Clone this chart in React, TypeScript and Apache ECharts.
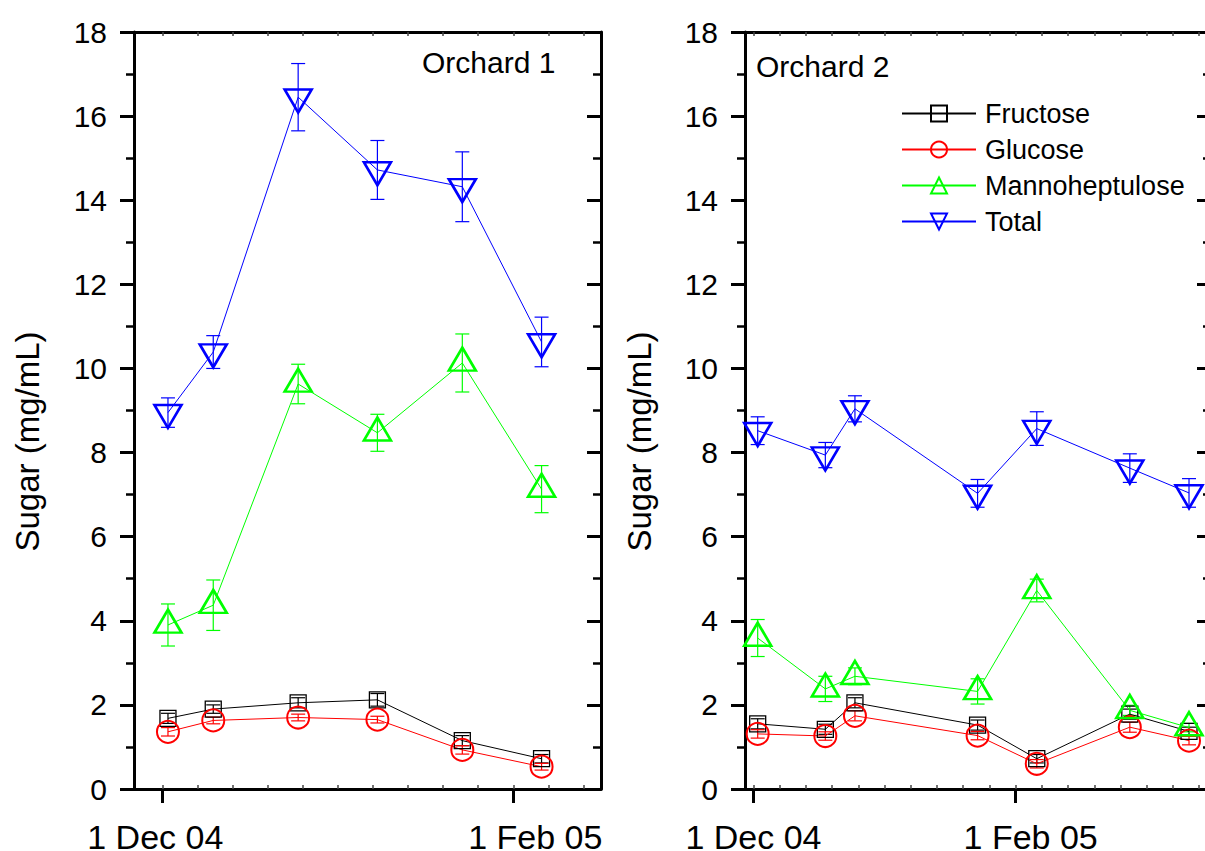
import React, { useEffect, useRef } from "react";
import * as echarts from "echarts";

const FONT = "'Liberation Sans', Arial, Helvetica, sans-serif";
const SERIES_NAMES = ["Fructose", "Glucose", "Mannoheptulose", "Total"];
const COLORS = ["#000000", "#ff0000", "#00ff00", "#0000ff"];

// Orchard 1
const o1Dates = ["2004-12-02", "2004-12-10", "2004-12-25", "2005-01-08", "2005-01-23", "2005-02-06"];
const o1Fructose = [1.68, 1.9, 2.05, 2.12, 1.15, 0.72];
const o1FructoseErr = [0.12, 0.1, 0.12, 0.15, 0.12, 0.1];
const o1Glucose = [1.36, 1.63, 1.7, 1.65, 0.93, 0.53];
const o1GlucoseErr = [0.1, 0.08, 0.08, 0.08, 0.1, 0.08];
const o1Manno = [3.9, 4.37, 9.63, 8.47, 10.13, 7.13];
const o1MannoErr = [0.5, 0.6, 0.47, 0.44, 0.69, 0.56];
const o1Total = [8.95, 10.39, 16.45, 14.72, 14.32, 10.63];
const o1TotalErr = [0.35, 0.39, 0.8, 0.7, 0.83, 0.59];

// Orchard 2
const o2Dates = ["2004-12-02", "2004-12-18", "2004-12-25", "2005-01-23", "2005-02-06", "2005-02-28", "2005-03-14"];
const o2Fructose = [1.55, 1.42, 2.05, 1.52, 0.72, 1.78, 1.37];
const o2FructoseErr = [0.12, 0.12, 0.12, 0.12, 0.1, 0.12, 0.1];
const o2Glucose = [1.31, 1.26, 1.74, 1.27, 0.6, 1.47, 1.15];
const o2GlucoseErr = [0.1, 0.1, 0.12, 0.1, 0.1, 0.12, 0.1];
const o2Manno = [3.59, 2.38, 2.68, 2.32, 4.72, 1.87, 1.46];
const o2MannoErr = [0.44, 0.3, 0.2, 0.3, 0.27, 0.12, 0.1];
const o2Total = [8.52, 7.94, 9.04, 7.03, 8.57, 7.63, 7.04];
const o2TotalErr = [0.33, 0.3, 0.31, 0.33, 0.4, 0.34, 0.34];

// x axis: days since 1 Dec 2004
const X_TICK_VALUES = [0, 62];
const X_TICK_LABELS = ["1 Dec 04", "1 Feb 05"];
const X_MINOR_STEP = 6.2;
const Y_TICK_LABELS = ["0", "2", "4", "6", "8", "10", "12", "14", "16", "18"];

const ORIGIN = Date.UTC(2004, 11, 1);
const dayOf = (s: string) => (Date.parse(s) - ORIGIN) / 86400000;

const symbols = ["rect", "circle", "triangle", "triangle"];
const symbolSizes: any[] = [16, 22, [27, 23], [27, 23]];
const symbolRotates = [0, 0, 0, 180];
const symbolOffsets: any[] = [[0, 0], [0, 0], [0, -23 / 6], [0, 23 / 6]];
const borderWidths = [1.3, 2, 2.6, 2.6];

function minorValues(max: number) {
  const out: number[] = [];
  for (let k = 0; k * X_MINOR_STEP <= max; k++) out.push(+(k * X_MINOR_STEP).toFixed(2));
  return out;
}

export default function App() {
  const ref = useRef<HTMLDivElement>(null);

  useEffect(() => {
    if (!ref.current) return;
    const chart = echarts.init(ref.current, null, { renderer: "svg" });

    const panels = [
      {
        dates: o1Dates,
        vals: [o1Fructose, o1Glucose, o1Manno, o1Total],
        errs: [o1FructoseErr, o1GlucoseErr, o1MannoErr, o1TotalErr],
        grid: { left: 134, top: 32, width: 467, height: 757 },
        xMin: -5,
        xMax: 77.5,
        labelShift: [-7, 22],
        nameGap: 90,
      },
      {
        dates: o2Dates,
        vals: [o2Fructose, o2Glucose, o2Manno, o2Total],
        errs: [o2FructoseErr, o2GlucoseErr, o2MannoErr, o2TotalErr],
        grid: { left: 745, top: 32, width: 466, height: 757 },
        xMin: -2,
        xMax: 108.2,
        labelShift: [0, 15],
        nameGap: 89,
      },
    ];

    const grids: any[] = [];
    const xAxes: any[] = [];
    const yAxes: any[] = [];
    const series: any[] = [];

    panels.forEach((p, pi) => {
      grids.push({ ...p.grid, containLabel: false, outerBoundsMode: "none" });
      const minors = minorValues(p.xMax);
      const rich: any = {};
      X_TICK_LABELS.forEach((_, i) => {
        const s = p.labelShift[i];
        rich["l" + i] = {
          fontSize: 34,
          lineHeight: 26,
          fontFamily: FONT,
          color: "#000",
          padding: s >= 0 ? [0, 0, 0, 2 * s] : [0, -2 * s, 0, 0],
        };
      });
      const xMain = xAxes.length;
      // bottom main axis
      xAxes.push({
        type: "value",
        gridIndex: pi,
        position: "bottom",
        min: p.xMin,
        max: p.xMax,
        axisLine: { show: true, onZero: false, lineStyle: { color: "#000", width: 3 } },
        axisTick: { show: true, customValues: X_TICK_VALUES, length: 14, inside: false, lineStyle: { color: "#000", width: 3 } },
        axisLabel: {
          show: true,
          customValues: X_TICK_VALUES,
          margin: 35,
          formatter: (v: number) => {
            const i = X_TICK_VALUES.indexOf(Math.round(v));
            return i >= 0 ? `{l${i}|${X_TICK_LABELS[i]}}` : "";
          },
          rich,
        },
        splitLine: { show: false },
      });
      // bottom minor ticks
      xAxes.push({
        type: "value",
        gridIndex: pi,
        position: "bottom",
        min: p.xMin,
        max: p.xMax,
        axisLine: { show: false, onZero: false },
        axisTick: { show: true, customValues: minors, length: 4, inside: true, lineStyle: { color: "#444", width: 1.5 } },
        axisLabel: { show: false },
        splitLine: { show: false },
      });
      // top axis
      xAxes.push({
        type: "value",
        gridIndex: pi,
        position: "top",
        min: p.xMin,
        max: p.xMax,
        axisLine: { show: true, onZero: false, lineStyle: { color: "#000", width: 3 } },
        axisTick: { show: true, customValues: minors, length: 4, inside: true, lineStyle: { color: "#444", width: 1.5 } },
        axisLabel: { show: false },
        splitLine: { show: false },
      });
      const yMain = yAxes.length;
      yAxes.push({
        type: "value",
        gridIndex: pi,
        position: "left",
        min: 0,
        max: 18,
        interval: 2,
        name: "Sugar (mg/mL)",
        nameLocation: "middle",
        nameGap: p.nameGap,
        nameRotate: 90,
        nameTextStyle: { fontSize: 33, fontFamily: FONT, color: "#000", padding: [0, 62, 0, 0] },
        axisLine: { show: true, onZero: false, lineStyle: { color: "#000", width: 3 } },
        axisTick: { show: true, length: 14, inside: false, lineStyle: { color: "#000", width: 3 } },
        minorTick: { show: true, splitNumber: 2, length: 8, lineStyle: { color: "#000", width: 2.5 } },
        axisLabel: {
          show: true,
          margin: 27,
          fontSize: 30,
          fontFamily: FONT,
          color: "#000",
          formatter: (v: number) => Y_TICK_LABELS[Math.round(v / 2)] ?? "",
        },
        splitLine: { show: false },
        minorSplitLine: { show: false },
      });
      yAxes.push({
        type: "value",
        gridIndex: pi,
        position: "right",
        min: 0,
        max: 18,
        interval: 2,
        axisLine: { show: true, onZero: false, lineStyle: { color: "#000", width: 3 } },
        axisTick: { show: true, length: 14, inside: true, lineStyle: { color: "#000", width: 3 } },
        minorTick: { show: true, splitNumber: 2, length: 8, lineStyle: { color: "#000", width: 2.5 } },
        axisLabel: { show: false },
        splitLine: { show: false },
      });

      const xs = p.dates.map(dayOf);
      SERIES_NAMES.forEach((name, si) => {
        const c = COLORS[si];
        const v = p.vals[si];
        const e = p.errs[si];
        series.push({
          type: "custom",
          name: name + " error " + (pi + 1),
          xAxisIndex: xMain,
          yAxisIndex: yMain,
          silent: true,
          z: 2,
          data: xs.map((x, i) => [x, v[i] - e[i], v[i] + e[i]]),
          encode: { x: 0, y: [1, 2] },
          renderItem: (params: any, api: any) => {
            const x = api.value(0);
            const lo = api.coord([x, api.value(1)]);
            const hi = api.coord([x, api.value(2)]);
            const w = 7;
            const st = { stroke: c, lineWidth: 1.2, fill: "none" };
            return {
              type: "group",
              children: [
                { type: "line", shape: { x1: lo[0], y1: lo[1], x2: hi[0], y2: hi[1] }, style: st },
                { type: "line", shape: { x1: lo[0] - w, y1: lo[1], x2: lo[0] + w, y2: lo[1] }, style: st },
                { type: "line", shape: { x1: hi[0] - w, y1: hi[1], x2: hi[0] + w, y2: hi[1] }, style: st },
              ],
            };
          },
        });
        series.push({
          type: "line",
          name,
          xAxisIndex: xMain,
          yAxisIndex: yMain,
          data: xs.map((x, i) => [x, v[i]]),
          symbol: symbols[si],
          symbolSize: symbolSizes[si],
          symbolRotate: symbolRotates[si],
          symbolOffset: symbolOffsets[si],
          showAllSymbol: true,
          z: 3,
          lineStyle: { color: c, width: 1 },
          itemStyle: { color: "rgba(255,255,255,0)", borderColor: c, borderWidth: borderWidths[si] },
          emphasis: { disabled: true },
          clip: false,
        });
      });
    });

    chart.setOption({
      animation: false,
      backgroundColor: "#ffffff",
      grid: grids,
      xAxis: xAxes,
      yAxis: yAxes,
      legend: {
        orient: "vertical",
        left: 901,
        top: 100,
        padding: 0,
        itemWidth: 74,
        itemHeight: 20,
        itemGap: 9,
        selectedMode: false,
        data: SERIES_NAMES,
        textStyle: { fontSize: 27, fontFamily: FONT, color: "#000", padding: [0, 0, 0, 4] },
      },
      graphic: [
        {
          type: "text",
          left: 422,
          top: 47,
          style: { text: "Orchard 1", fontSize: 30, fontFamily: FONT, fill: "#000" },
        },
        {
          type: "text",
          left: 756,
          top: 51,
          style: { text: "Orchard 2", fontSize: 30, fontFamily: FONT, fill: "#000" },
        },
      ],
      series,
    });

    return () => chart.dispose();
  }, []);

  return (
    <div style={{ position: "fixed", left: 0, top: 0, width: 1205, height: 851, overflow: "hidden", background: "#fff" }}>
      <div ref={ref} style={{ width: 1205, height: 851 }} />
    </div>
  );
}
